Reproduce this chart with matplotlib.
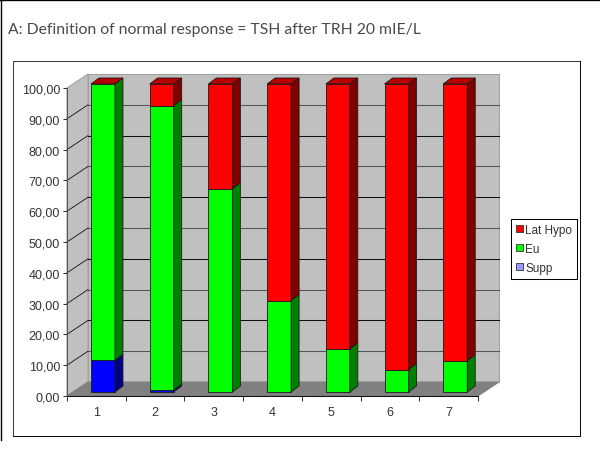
"""Stacked 3D-look column chart: TSH response groups per category."""

import matplotlib
matplotlib.use("Agg")
import matplotlib.pyplot as plt
from matplotlib.lines import Line2D
from matplotlib.patches import Patch, Polygon, Rectangle
import numpy as np

categories = [1, 2, 3, 4, 5, 6, 7]
supp = [10.3, 0.6, 0, 0, 0, 0, 0]
eu = [89.7, 92.4, 66.0, 29.7, 14.0, 7.3, 10.2]
lat_hypo = [0, 7.0, 34.0, 70.3, 86.0, 92.7, 89.8]
y_ticks = [0, 10, 20, 30, 40, 50, 60, 70, 80, 90, 100]
y_tick_labels = ["0,00", "10,00", "20,00", "30,00", "40,00", "50,00", "60,00", "70,00", "80,00", "90,00", "100,00"]
title = "A: Definition of normal response = TSH after TRH 20 mIE/L"

W, H = 600, 460
# plot box in pixels
LEFT, RIGHT, BOTTOM, TOP = 67, 478, 397, 89
PX_X = (RIGHT - LEFT) / len(categories)
PX_Y = (BOTTOM - TOP) / 100

# depth of the fake 3D box and of the bars, in data units
DEPTH_X, DEPTH_Y = 21 / PX_X, 14 / PX_Y
BAR_W = 24 / PX_X
BAR_SHIFT_X, BAR_SHIFT_Y = 6.6 / PX_X, 4 / PX_Y
BAR_DX, BAR_DY = 8 / PX_X, 6 / PX_Y

WALL = "#c0c0c0"
FLOOR = "#808080"
LW = 0.75


def fx(px):
    return px / W


def fy(px):
    return 1 - px / H


def draw_segment(ax, x, y0, y1, colors):
    front, side = colors
    left = x + BAR_SHIFT_X - BAR_W / 2
    right = left + BAR_W
    low = y0 + BAR_SHIFT_Y
    high = y1 + BAR_SHIFT_Y
    kw = dict(edgecolor="#1a1a1a", linewidth=0.6, clip_on=False, zorder=4)
    ax.add_patch(Rectangle((left, low), BAR_W, high - low, facecolor=front, **kw))
    ax.add_patch(Polygon([(right, low), (right + BAR_DX, low + BAR_DY),
                          (right + BAR_DX, high + BAR_DY), (right, high)], facecolor=side, **kw))


def draw_cap(ax, x, y1, color):
    left = x + BAR_SHIFT_X - BAR_W / 2
    right = left + BAR_W
    high = y1 + BAR_SHIFT_Y
    ax.add_patch(Polygon([(left, high), (left + BAR_DX, high + BAR_DY),
                          (right + BAR_DX, high + BAR_DY), (right, high)],
                         facecolor=color, edgecolor="#1a1a1a", linewidth=0.6, clip_on=False, zorder=4))


plt.rcParams["font.family"] = ["Liberation Sans", "DejaVu Sans"]
fig = plt.figure(figsize=(W / 100, H / 100), dpi=100)

# picture border and chart frame
fig.add_artist(Line2D([fx(0.5), fx(0.5)], [fy(441), fy(0)], color="black", lw=1))
fig.add_artist(Line2D([fx(0), fx(600)], [fy(0.5), fy(0.5)], color="black", lw=1))
fig.add_artist(Line2D([fx(13), fx(13), fx(580)], [fy(437), fy(62), fy(62)], color="#404040", lw=LW))
fig.add_artist(Line2D([fx(13), fx(580), fx(580)], [fy(437), fy(437), fy(62)], color="#111111", lw=LW))

fig.text(fx(8), fy(30), title, family=["Lato", "DejaVu Sans"], fontsize=11.3,
         color="#4a4a4a", ha="left", va="center")

ax = fig.add_axes([fx(LEFT), fy(BOTTOM), fx(RIGHT - LEFT), (BOTTOM - TOP) / H])
ax.set_xlim(0.5, 7.5)
ax.set_ylim(0, 100)
ax.patch.set_alpha(0)
for spine in ax.spines.values():
    spine.set_visible(False)

x0, x1 = ax.get_xlim()
ax.add_patch(Rectangle((x0 + DEPTH_X, DEPTH_Y), x1 - x0, 100, facecolor=WALL, edgecolor="#a0a0a0",
                       linewidth=LW, clip_on=False, zorder=1))
ax.add_patch(Polygon([(x0, 0), (x0 + DEPTH_X, DEPTH_Y), (x0 + DEPTH_X, 100 + DEPTH_Y), (x0, 100)],
                     facecolor=WALL, edgecolor="#a0a0a0", linewidth=LW, clip_on=False, zorder=1))
ax.add_patch(Polygon([(x0, 0), (x0 + DEPTH_X, DEPTH_Y), (x1 + DEPTH_X, DEPTH_Y), (x1, 0)],
                     facecolor=FLOOR, edgecolor=FLOOR, linewidth=LW, clip_on=False, zorder=1))

# grid lines: wall plus the diagonal over the side wall
for i, tick in enumerate(y_ticks[1:-1]):
    shade = "#555555" if i % 2 == 0 else "#111111"
    ax.plot([x0 + DEPTH_X, x1 + DEPTH_X], [tick + DEPTH_Y] * 2, color=shade, lw=LW, clip_on=False, zorder=2)
    ax.plot([x0, x0 + DEPTH_X], [tick, tick + DEPTH_Y], color="#111111", lw=0.6, clip_on=False, zorder=2)

# bars
bottoms = np.zeros(len(categories))
series = [
    (supp, ("#0000ff", "#000080")),
    (eu, ("#00ff00", "#008000")),
    (lat_hypo, ("#ff0000", "#800000")),
]
for values, colors in series:
    for x, base, value in zip(categories, bottoms, values):
        if value > 0:
            draw_segment(ax, x, base, base + value, colors)
    bottoms = bottoms + np.array(values)
for x, total in zip(categories, bottoms):
    draw_cap(ax, x, total, "#b80000")

ax.set_xticks(np.arange(0.5, 8.5, 1))
ax.set_xticks(categories, minor=True)
ax.set_xticklabels([])
ax.set_xticklabels([str(c) for c in categories], minor=True)
ax.tick_params(axis="x", which="major", length=3.6, width=LW, color="#333333")
ax.tick_params(axis="x", which="minor", length=0, pad=7, labelsize=9, labelcolor="#333333")
ax.set_yticks(y_ticks)
ax.set_yticklabels(y_tick_labels)
ax.tick_params(axis="y", length=3, width=LW, color="#333333", pad=2, labelsize=9, labelcolor="#333333")
ax.plot([x0, x1], [0, 0], color="#111111", lw=LW, clip_on=False, zorder=3)
ax.plot([x0, x0], [0, 100], color="#555555", lw=LW, clip_on=False, zorder=3)

handles = [
    Patch(facecolor="#ff0000", edgecolor="#333333", linewidth=0.6),
    Patch(facecolor="#00ff00", edgecolor="#333333", linewidth=0.6),
    Patch(facecolor="#9999ff", edgecolor="#333333", linewidth=0.6),
]
legend = fig.legend(handles, ["Lat Hypo", "Eu", "Supp"], loc="lower left",
                    bbox_to_anchor=(fx(511), fy(279.5)), fontsize=8.5, fancybox=False,
                    framealpha=1, edgecolor="black", borderpad=0.4, handlelength=0.6,
                    handleheight=0.6, handletextpad=0.2, labelspacing=0.6, borderaxespad=0,
                    labelcolor="#333333")
legend.get_frame().set_linewidth(LW)

fig.savefig("out.png", dpi=100)
plt.close(fig)
